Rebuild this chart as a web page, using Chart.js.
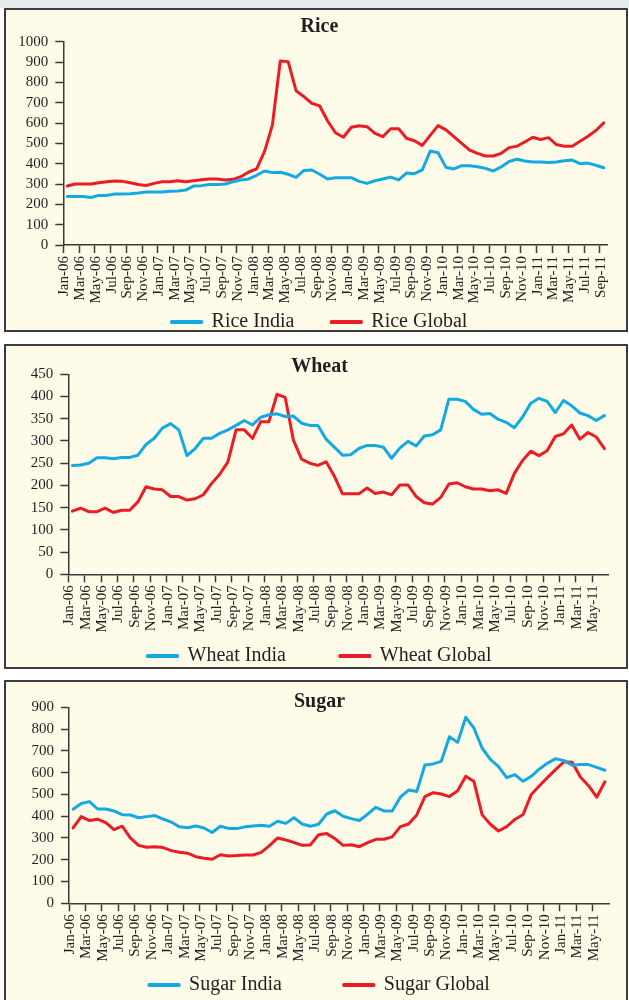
<!DOCTYPE html>
<html>
<head>
<meta charset="utf-8">
<script src="https://cdn.jsdelivr.net/npm/chart.js@4.4.0/dist/chart.umd.min.js"></script>
<style>
  html, body { margin: 0; padding: 0; background: #ffffff; }
  body { width: 629px; height: 1000px; position: relative; overflow: hidden; }
  .strip { position: absolute; left: 0; top: 0; width: 629px; height: 8px; background: #e7edef; }
  .panel { position: absolute; left: 4px; width: 620px; border: 2px solid #3d3d3d; background: #fffbe9; overflow: hidden; }
  .panel canvas { display: block; }
</style>
</head>
<body>
<div class="strip"></div>
<div class="panel" style="top:8px;height:320px;"><canvas id="riceChart" width="620" height="332"></canvas></div>
<div class="panel" style="top:344px;height:321px;"><canvas id="wheatChart" width="620" height="330"></canvas></div>
<div class="panel" style="top:680px;height:320px;"><canvas id="sugarChart" width="620" height="323"></canvas></div>

<script>
// monthly categories, Jan-06 .. Sep-11
const months = [
  'Jan-06', 'Feb-06', 'Mar-06', 'Apr-06', 'May-06', 'Jun-06', 'Jul-06', 'Aug-06', 'Sep-06', 'Oct-06', 'Nov-06', 'Dec-06',
  'Jan-07', 'Feb-07', 'Mar-07', 'Apr-07', 'May-07', 'Jun-07', 'Jul-07', 'Aug-07', 'Sep-07', 'Oct-07', 'Nov-07', 'Dec-07',
  'Jan-08', 'Feb-08', 'Mar-08', 'Apr-08', 'May-08', 'Jun-08', 'Jul-08', 'Aug-08', 'Sep-08', 'Oct-08', 'Nov-08', 'Dec-08',
  'Jan-09', 'Feb-09', 'Mar-09', 'Apr-09', 'May-09', 'Jun-09', 'Jul-09', 'Aug-09', 'Sep-09', 'Oct-09', 'Nov-09', 'Dec-09',
  'Jan-10', 'Feb-10', 'Mar-10', 'Apr-10', 'May-10', 'Jun-10', 'Jul-10', 'Aug-10', 'Sep-10', 'Oct-10', 'Nov-10', 'Dec-10',
  'Jan-11', 'Feb-11', 'Mar-11', 'Apr-11', 'May-11', 'Jun-11', 'Jul-11', 'Aug-11', 'Sep-11'
];
const riceMonths = months.slice(0, 69);   // Jan-06 .. Sep-11
const wheatMonths = months.slice(0, 66);  // Jan-06 .. Jun-11
const sugarMonths = months.slice(0, 66);

const riceIndia = [
  239, 239, 239, 234, 244, 244, 251, 251, 252, 256, 261, 261,
  261, 264, 266, 270, 290, 292, 298, 298, 300, 311, 320, 325,
  343, 364, 356, 358, 348, 333, 367, 369, 348, 325, 331, 331,
  331, 313, 303, 316, 325, 334, 320, 354, 351, 369, 462, 454,
  382, 374, 390, 390, 385, 377, 364, 384, 411, 422, 413, 408,
  408, 406, 408, 414, 418, 400, 403, 392, 380
];
const riceGlobal = [
  290, 300, 300, 300, 306, 311, 315, 313, 306, 298, 293, 303,
  311, 311, 316, 311, 316, 321, 325, 325, 320, 323, 336, 359,
  374, 459, 590, 905, 902, 759, 730, 697, 684, 610, 552, 530,
  579, 587, 582, 549, 533, 572, 572, 525, 513, 490, 539, 587,
  566, 533, 500, 467, 451, 438, 438, 451, 479, 486, 507, 530,
  519, 528, 494, 486, 486, 510, 535, 563, 601
];

const wheatIndia = [
  245, 246, 250, 262, 262, 260, 263, 263, 268, 292, 306, 329,
  339, 325, 267, 283, 306, 306, 317, 325, 335, 346, 336, 353,
  359, 361, 355, 356, 340, 335, 335, 304, 286, 268, 269, 283,
  290, 290, 286, 261, 284, 299, 289, 311, 314, 325, 394, 394,
  389, 371, 360, 362, 349, 342, 330, 354, 385, 396, 389, 364,
  391, 379, 363, 357, 346, 357
];
const wheatGlobal = [
  142, 149, 141, 141, 149, 139, 144, 144, 163, 197, 192, 190,
  175, 175, 167, 170, 179, 204, 225, 253, 325, 325, 306, 343,
  343, 405, 398, 302, 259, 250, 245, 253, 221, 181, 181, 181,
  194, 182, 185, 179, 201, 201, 175, 161, 158, 173, 203, 206,
  197, 192, 192, 188, 190, 182, 227, 256, 277, 267, 278, 310,
  316, 336, 304, 319, 309, 283
];

const sugarIndia = [
  432, 458, 467, 433, 433, 424, 407, 406, 393, 398, 403, 387,
  373, 351, 347, 355, 346, 325, 354, 344, 343, 351, 355, 358,
  354, 377, 367, 393, 364, 354, 363, 410, 425, 400, 389, 380,
  409, 441, 424, 424, 487, 520, 513, 635, 640, 652, 765, 739,
  854, 804, 712, 661, 628, 577, 591, 560, 583, 617, 644, 664,
  655, 634, 637, 637, 624, 611
];
const sugarGlobal = [
  346, 398, 380, 386, 370, 338, 354, 300, 266, 257, 260, 256,
  242, 234, 230, 214, 207, 202, 223, 217, 219, 222, 222, 234,
  265, 300, 291, 279, 266, 268, 315, 320, 297, 266, 269, 260,
  279, 294, 294, 305, 352, 364, 406, 490, 508, 502, 490, 517,
  583, 559, 406, 363, 332, 352, 385, 408, 500, 540, 578, 615,
  650, 648, 580, 540, 487, 558
];

const INDIA_COLOR = '#13a9e3';
const GLOBAL_COLOR = '#ec1c24';
const AXIS_COLOR = '#3a3a3a';
const TEXT_COLOR = '#231f20';
const FONT = "'Liberation Serif', 'Times New Roman', serif";

// the axis boxes are kept narrow so the layout lands where the original has it;
// widen their label areas afterwards so rotated / long tick labels are not clipped
const openLabelArea = {
  id: 'openLabelArea',
  afterLayout(chart) {
    chart.scales.x.bottom = chart.height;
    chart.scales.y.left = 0;
  }
};

function createPriceChart(canvasId, title, labels, india, global, box) {
  return new Chart(document.getElementById(canvasId), {
    type: 'line',
    data: {
      labels: labels,
      datasets: [
        {
          label: title + ' India',
          data: india,
          borderColor: INDIA_COLOR,
          backgroundColor: INDIA_COLOR
        },
        {
          label: title + ' Global',
          data: global,
          borderColor: GLOBAL_COLOR,
          backgroundColor: GLOBAL_COLOR
        }
      ]
    },
    plugins: [openLabelArea],
    options: {
      responsive: false,
      animation: false,
      devicePixelRatio: 1,
      layout: { padding: { left: box.padLeft, right: box.padRight, top: 0, bottom: 0 } },
      elements: {
        line: { tension: 0, borderWidth: 3, borderJoinStyle: 'round', borderCapStyle: 'round' },
        point: { radius: 0, hoverRadius: 0 }
      },
      plugins: {
        tooltip: { enabled: false },
        title: {
          display: true,
          text: title,
          color: TEXT_COLOR,
          font: { family: FONT, size: 20, weight: 'bold', lineHeight: 1 },
          padding: { top: box.titleTop, bottom: box.titleBottom }
        },
        legend: {
          position: 'bottom',
          labels: {
            color: TEXT_COLOR,
            font: { family: FONT, size: 20 },
            boxWidth: 30,
            boxHeight: 1,
            padding: box.legendGap
          }
        }
      },
      scales: {
        x: {
          offset: true,
          ticks: {
            autoSkip: false,
            minRotation: 90,
            maxRotation: 90,
            padding: 3,
            labelOffset: -3,
            color: TEXT_COLOR,
            font: { family: FONT, size: 15 },
            callback: function (value, index) {
              return index % 2 === 0 ? this.getLabelForValue(value) : '';
            }
          },
          grid: {
            offset: true,
            drawOnChartArea: false,
            tickLength: 8,
            tickWidth: 1.5,
            tickColor: ctx => (ctx.index % 2 === 0 ? AXIS_COLOR : 'rgba(0,0,0,0)')
          },
          border: { display: true, color: AXIS_COLOR, width: 1.5 },
          afterFit: scale => { scale.height = box.xHeight; }
        },
        y: {
          min: 0,
          max: box.yMax,
          ticks: {
            stepSize: box.yStep,
            autoSkip: false,
            padding: 7,
            color: TEXT_COLOR,
            font: { family: FONT, size: 15 },
            callback: value => String(value)
          },
          grid: {
            drawOnChartArea: false,
            tickLength: 8,
            tickWidth: 1.5,
            tickColor: AXIS_COLOR
          },
          border: { display: true, color: AXIS_COLOR, width: 1.5 },
          afterFit: scale => { scale.width = box.yWidth; }
        }
      }
    }
  });
}

createPriceChart('riceChart', 'Rice', riceMonths, riceIndia, riceGlobal, {
  padLeft: 25.3, padRight: 18.3, yWidth: 32, xHeight: 30,
  titleTop: 7, titleBottom: 4.7, legendGap: 37, yMax: 1000, yStep: 100
});

createPriceChart('wheatChart', 'Wheat', wheatMonths, wheatIndia, wheatGlobal, {
  padLeft: 24.5, padRight: 17.5, yWidth: 37.8, xHeight: 17.7,
  titleTop: 11, titleBottom: -2.7, legendGap: 54, yMax: 450, yStep: 50
});

createPriceChart('sugarChart', 'Sugar', sugarMonths, sugarIndia, sugarGlobal, {
  padLeft: 18.5, padRight: 11.5, yWidth: 44.5, xHeight: 9.7,
  titleTop: 10, titleBottom: -4.7, legendGap: 62, yMax: 900, yStep: 100
});
</script>
</body>
</html>
